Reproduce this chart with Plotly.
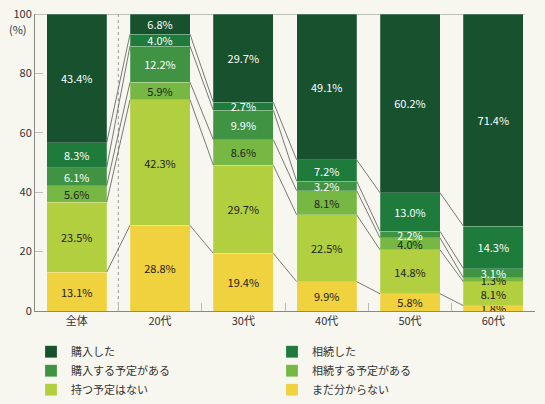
import plotly.graph_objects as go

categories = ["全体", "20代", "30代", "40代", "50代", "60代"]

# series listed bottom -> top of the stack
series_names = ["まだ分からない", "持つ予定はない", "相続する予定がある",
                "購入する予定がある", "相続した", "購入した"]
series_values = {
    "まだ分からない":     [13.1, 28.8, 19.4, 9.9, 5.8, 1.8],
    "持つ予定はない":     [23.5, 42.3, 29.7, 22.5, 14.8, 8.1],
    "相続する予定がある": [5.6, 5.9, 8.6, 8.1, 4.0, 1.3],
    "購入する予定がある": [6.1, 12.2, 9.9, 3.2, 2.2, 3.1],
    "相続した":           [8.3, 4.0, 2.7, 7.2, 13.0, 14.3],
    "購入した":           [43.4, 6.8, 29.7, 49.1, 60.2, 71.4],
}
colors = {
    "まだ分からない": "#f0d13e",
    "持つ予定はない": "#b1cf3f",
    "相続する予定がある": "#76b843",
    "購入する予定がある": "#3f9343",
    "相続した": "#1e7b3b",
    "購入した": "#17512d",
}
text_colors = {
    "まだ分からない": "#222222",
    "持つ予定はない": "#222222",
    "相続する予定がある": "#222222",
    "購入する予定がある": "#ffffff",
    "相続した": "#ffffff",
    "購入した": "#ffffff",
}
legend_rank = {
    "購入した": 1, "相続した": 2, "購入する予定がある": 3,
    "相続する予定がある": 4, "持つ予定はない": 5, "まだ分からない": 6,
}

BG = "#f7f6ef"
FONT = "Noto Sans CJK JP"
bargap = 0.28
half = (1 - bargap) / 2

fig = go.Figure()
for name in series_names:
    fig.add_trace(go.Bar(
        name=name, x=categories, y=series_values[name],
        marker=dict(color=colors[name], line=dict(color="rgba(255,255,255,0.35)", width=0.6)),
        texttemplate="%{y:.1f}%", textposition="inside", insidetextanchor="middle",
        textangle=0,
        textfont=dict(color=text_colors[name], size=11, family=FONT),
        legendrank=legend_rank[name],
        hoverinfo="skip",
    ))

shapes = []
# connector lines between adjacent bars at each internal cumulative boundary
cums = []
running = [0.0] * len(categories)
for name in series_names[:-1]:
    running = [r + v for r, v in zip(running, series_values[name])]
    cums.append(list(running))
for c in cums:
    for i in range(len(categories) - 1):
        shapes.append(dict(type="line", xref="x", yref="y",
                           x0=i + half, y0=c[i], x1=i + 1 - half, y1=c[i + 1],
                           line=dict(color="#6a6a6a", width=0.9), layer="above"))
# dotted separator between 全体 and 20代
shapes.append(dict(type="line", xref="x", yref="y", x0=0.5, x1=0.5, y0=0, y1=100,
                   line=dict(color="#999999", width=1, dash="dot"), layer="below"))
# top line at 100
shapes.append(dict(type="line", xref="paper", yref="y", x0=0, x1=0.98, y0=100, y1=100,
                   line=dict(color="#888888", width=1), layer="below"))

fig.update_layout(
    width=545, height=404,
    margin=dict(l=35, r=10, t=14, b=93, autoexpand=False),
    paper_bgcolor=BG, plot_bgcolor=BG,
    barmode="stack", bargap=bargap,
    font=dict(family=FONT, size=11, color="#333333"),
    uniformtext=dict(minsize=11, mode="show"),
    shapes=shapes,
    showlegend=True,
    legend=dict(orientation="h", x=-0.008, xanchor="left", y=-0.088, yanchor="top",
                entrywidth=196, entrywidthmode="pixels", tracegroupgap=0,
                font=dict(size=11, color="#333333", family=FONT),
                bgcolor="rgba(0,0,0,0)", traceorder="normal"),
    annotations=[dict(text="(%)", xref="paper", x=0, xanchor="right", xshift=-6,
                      yref="y", y=100, yshift=-15, showarrow=False,
                      font=dict(size=11, color="#333333", family=FONT))],
)
fig.update_xaxes(showline=True, linecolor="#888888", linewidth=1,
                 ticks="inside", tickson="boundaries", ticklen=8, tickcolor="#bbbbbb",
                 showgrid=False, tickfont=dict(size=11, color="#333333"))
fig.update_yaxes(range=[0, 100], showline=True, linecolor="#888888", linewidth=1,
                 ticks="inside", ticklen=8, tickcolor="#bbbbbb", dtick=20,
                 showgrid=False, zeroline=False, tickfont=dict(size=11, color="#333333"))

fig.write_html("out.html")
